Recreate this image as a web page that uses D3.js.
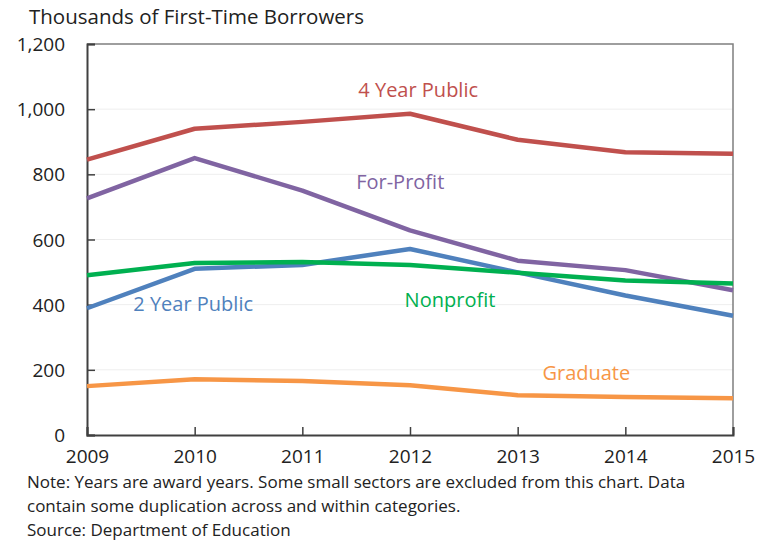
<!DOCTYPE html>
<html>
<head>
<meta charset="utf-8">
<script src="https://cdn.jsdelivr.net/npm/d3@7"></script>
<style>
  html, body { margin: 0; padding: 0; background: #fff; }
  svg { display: block; }
  text { font-family: "Open Sans", "Noto Sans", sans-serif; }
</style>
</head>
<body>
<svg id="chart" width="760" height="542"></svg>
<script>
// Award years and first-time borrowers (thousands) by sector
const years = [2009, 2010, 2011, 2012, 2013, 2014, 2015];
const fourYearPublic = [845, 940, 961, 986, 906, 868, 863];
const forProfit      = [726, 850, 750, 628, 535, 506, 444];
const twoYearPublic  = [389, 510, 522, 571, 499, 428, 366];
const nonprofit      = [490, 528, 531, 522, 498, 474, 465];
const graduate       = [150, 171, 166, 153, 122, 117, 113];
const yTicks = [0, 200, 400, 600, 800, 1000, 1200];

const seriesNames  = ["4 Year Public", "For-Profit", "2 Year Public", "Nonprofit", "Graduate"];
const seriesValues = [fourYearPublic, forProfit, twoYearPublic, nonprofit, graduate];
const seriesColors = ["#C0504D", "#8064A2", "#4F81BD", "#00B050", "#F79646"];
// label anchor (left edge, baseline) in data units: [year, value]
const labelPos = [
  [2011.52, 1037],
  [2011.50, 755],
  [2009.43, 380],
  [2011.95, 393],
  [2013.23, 169]
];

const svg = d3.select("#chart");
const m = { left: 87, right: 733, top: 44, bottom: 435 };

const x = d3.scaleLinear().domain([2009, 2015]).range([m.left, m.right]);
const y = d3.scaleLinear().domain([0, 1200]).range([m.bottom, m.top]);

// faint horizontal gridlines
svg.append("g")
  .selectAll("line")
  .data(yTicks.filter(d => d > 0 && d < 1200))
  .join("line")
  .attr("x1", m.left).attr("x2", m.right)
  .attr("y1", d => y(d)).attr("y2", d => y(d))
  .attr("stroke", "#eeeeee").attr("stroke-width", 1);

// frame: top and right edges
svg.append("path")
  .attr("d", `M${m.left},${m.top}H${m.right}V${m.bottom}`)
  .attr("fill", "none").attr("stroke", "#7f7f7f").attr("stroke-width", 1.5);

// y axis with inward ticks
const yAxis = d3.axisLeft(y).tickValues(yTicks).tickSize(-8).tickPadding(22)
  .tickFormat(d3.format(","));
const gy = svg.append("g").attr("transform", `translate(${m.left},0)`).call(yAxis);
gy.select(".domain").attr("stroke", "#404040").attr("stroke-width", 2);
gy.selectAll(".tick line").attr("stroke", "#404040").attr("stroke-width", 1.5);
gy.selectAll(".tick text").attr("fill", "#222").style("font-size", "19px")
  .attr("font-family", "Open Sans, sans-serif").attr("dy", "0.35em");

// x axis with inward ticks
const xAxis = d3.axisBottom(x).tickValues(years).tickSize(-8).tickPadding(15)
  .tickFormat(d3.format("d"));
const gx = svg.append("g").attr("transform", `translate(0,${m.bottom})`).call(xAxis);
gx.select(".domain").attr("stroke", "#404040").attr("stroke-width", 2);
gx.selectAll(".tick line").attr("stroke", "#404040").attr("stroke-width", 1.5);
gx.selectAll(".tick text").attr("fill", "#222").style("font-size", "19px")
  .attr("font-family", "Open Sans, sans-serif").attr("dy", "0.71em");

// series lines
const line = d3.line().x((d, i) => x(years[i])).y(d => y(d));
svg.append("g")
  .selectAll("path")
  .data(seriesValues)
  .join("path")
  .attr("d", line)
  .attr("fill", "none")
  .attr("stroke", (d, i) => seriesColors[i])
  .attr("stroke-width", 4.5)
  .attr("stroke-linejoin", "round");

// direct labels
svg.append("g")
  .selectAll("text")
  .data(seriesNames)
  .join("text")
  .attr("x", (d, i) => x(labelPos[i][0]))
  .attr("y", (d, i) => y(labelPos[i][1]))
  .attr("fill", (d, i) => seriesColors[i])
  .style("font-size", "20px")
  .text(d => d);

// unit label
svg.append("text")
  .attr("x", 29).attr("y", 24)
  .attr("fill", "#222").style("font-size", "20.5px")
  .text("Thousands of First-Time Borrowers");

// notes
const notes = [
  "Note: Years are award years. Some small sectors are excluded from this chart. Data",
  "contain some duplication across and within categories.",
  "Source: Department of Education"
];
svg.append("g")
  .selectAll("text")
  .data(notes)
  .join("text")
  .attr("x", 27)
  .attr("y", (d, i) => 488 + i * 24)
  .attr("fill", "#222").style("font-size", "17px")
  .text(d => d);
</script>
</body>
</html>
